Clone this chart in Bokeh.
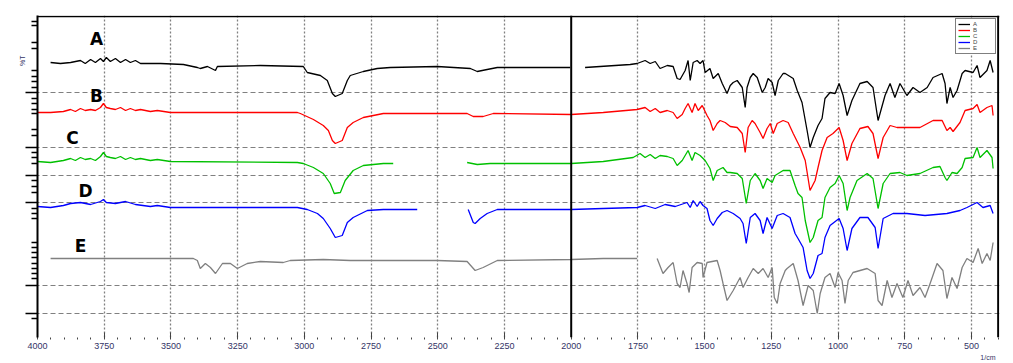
from bokeh.plotting import figure
from bokeh.models import Range1d, FixedTicker, Span, Label, Legend, LegendItem, Title
from bokeh.embed import file_html
from bokeh.resources import INLINE

nan = float("nan")

# ---- data: wavenumber (1/cm) and stacked %T (offset traces) ----
wn_A = [3951, 3914, 3876, 3839, 3821, 3801, 3783, 3764, 3753, 3742, 3727, 3708, 3689, 3670, 3652, 3633, 3614, 3577, 3539,
        3453, 3401, 3390, 3363, 3333, 3326, 3165, 3004, 2989, 2940, 2914, 2895, 2884, 2858, 2839, 2828, 2779, 2727, 2678,
        2502, 2378, 2352, 2315, 2277, 2004, nan,
        1948, 1779, 1753, 1723, 1704, 1685, 1667, 1640, 1618, 1603, 1592, 1573, 1562, 1554, 1543, 1528, 1517, 1506, 1498,
        1480, 1468, 1449, 1434, 1416, 1404, 1393, 1378, 1359, 1348, 1341, 1329, 1318, 1303, 1284, 1273, 1262, 1247, 1236,
        1224, 1206, 1198, 1168, 1153, 1135, 1116, 1105, 1093, 1075, 1060, 1049, 1030, 1011, 996, 981, 966, 948, 918, 891,
        869, 850, 824, 805, 787, 768, 742, 719, 693, 666, 644, 610, 599, 592, 580, 569, 554, 535, 524, 494, 479, 468, 442,
        430, 419]
t_A = [274, 273, 274, 276, 273, 277, 274, 278, 275, 279, 275, 278, 274, 277, 274, 276, 273, 273, 273,
       272, 269, 268, 270, 266, 270, 271, 270, 264, 261, 256, 243, 240, 243, 256, 261, 265, 268, 269,
       270, 268, 265, 267, 269, 269, nan,
       269, 272, 273, 276, 273, 275, 268, 271, 270, 258, 257, 266, 276, 256, 274, 276, 273, 276, 264,
       268, 258, 263, 253, 243, 251, 254, 256, 249, 229, 249, 259, 263, 259, 244, 249, 258, 254, 241,
       256, 263, 263, 258, 246, 234, 206, 189, 199, 211, 218, 238, 244, 243, 253, 241, 221, 236, 253, 255,
       249, 216, 241, 253, 239, 253, 241, 249, 244, 249, 259, 263, 253, 233, 249, 239, 246, 263, 266, 264, 271, 259, 266,
       276, 264]

wn_B = [4000, 3951, 3903, 3876, 3858, 3839, 3821, 3801, 3783, 3764, 3753, 3742, 3727, 3708, 3689, 3670, 3652, 3633, 3614,
        3577, 3551, 3502, 3026, 3015, 2966, 2929, 2910, 2895, 2884, 2858, 2839, 2817, 2779, 2704, 2390, 2367, 2330, 2292,
        2000, 1880, 1753, 1723, 1704, 1685, 1667, 1640, 1618, 1603, 1584, 1573, 1562, 1547, 1536, 1524, 1509, 1491, 1480,
        1468, 1453, 1442, 1423, 1404, 1378, 1359, 1348, 1337, 1322, 1311, 1292, 1281, 1266, 1254, 1243, 1228, 1206, 1187,
        1168, 1142, 1123, 1105, 1086, 1075, 1060, 1041, 1019, 996, 981, 966, 948, 918, 888, 869, 850, 831, 805, 779, 742,
        693, 644, 610, 592, 580, 569, 543, 524, 494, 479, 468, 442, 423, 419]
t_B = [224, 224, 225, 227, 225, 228, 226, 227, 226, 229, 233, 229, 228, 227, 229, 226, 228, 226, 227,
       225, 226, 224, 224, 223, 217, 211, 206, 196, 193, 196, 209, 214, 219, 223, 223, 220, 220, 223,
       222, 224, 227, 229, 225, 228, 224, 226, 224, 218, 222, 228, 233, 224, 233, 226, 231, 221, 216,
       206, 213, 216, 214, 210, 209, 203, 184, 209, 216, 213, 204, 198, 208, 213, 203, 213, 216, 214,
       203, 189, 176, 146, 156, 169, 186, 199, 203, 209, 196, 176, 193, 208, 210, 203, 178, 199, 211, 209, 209,
       209, 216, 216, 206, 209, 205, 214, 226, 228, 232, 224, 229, 231, 221]

wn_C = [4000, 3951, 3903, 3876, 3858, 3839, 3821, 3801, 3783, 3764, 3753, 3742, 3727, 3708, 3689, 3670, 3652, 3633, 3614,
        3577, 3551, 3502, 3026, 3004, 2966, 2929, 2903, 2888, 2865, 2847, 2817, 2779, 2704, 2667, nan,
        2390, 2352, 2304, 2000, 1880, 1768, 1742, 1723, 1704, 1685, 1667, 1640, 1618, 1603, 1584, 1573, 1562, 1547, 1536,
        1517, 1498, 1480, 1468, 1453, 1431, 1416, 1404, 1378, 1359, 1344, 1329, 1311, 1292, 1281, 1266, 1247, 1236, 1206,
        1180, 1161, 1150, 1135, 1123, 1105, 1093, 1075, 1060, 1049, 1030, 1011, 996, 981, 966, 955, 929, 891, 869, 850,
        831, 805, 768, 742, 693, 644, 618, 599, 592, 573, 554, 535, 524, 494, 479, 468, 442, 423, 419]
t_C = [175, 174, 176, 178, 176, 179, 177, 178, 176, 180, 184, 180, 179, 178, 180, 177, 179, 177, 178,
       176, 177, 175, 174, 173, 169, 163, 153, 143, 144, 156, 166, 171, 173, 173, nan,
       174, 172, 173, 173, 175, 179, 183, 179, 182, 178, 181, 180, 178, 171, 176, 181, 186, 176, 184,
       181, 176, 168, 156, 166, 169, 164, 164, 163, 158, 133, 156, 163, 156, 148, 158, 154, 161, 166,
       166, 151, 143, 139, 116, 94, 99, 116, 119, 139, 149, 153, 161, 153, 126, 139, 156, 163, 158, 128,
       153, 163, 164, 161, 163, 169, 170, 159, 156, 164, 163, 169, 178, 179, 189, 179, 186, 179, 168]

wn_D = [4000, 3951, 3903, 3876, 3839, 3801, 3764, 3753, 3742, 3708, 3670, 3633, 3577, 3551, 3502, 3026, 2989, 2951, 2929,
        2903, 2884, 2858, 2839, 2817, 2764, 2704, 2577, nan,
        2386, 2367, 2360, 2341, 2315, 2277, 2000, 1880, 1753, 1723, 1685, 1648, 1610, 1566, 1554, 1543, 1528, 1517, 1506,
        1491, 1480, 1468, 1453, 1434, 1416, 1393, 1367, 1356, 1344, 1329, 1311, 1292, 1281, 1266, 1247, 1228, 1206, 1180,
        1161, 1150, 1131, 1116, 1105, 1093, 1075, 1060, 1049, 1030, 996, 981, 966, 948, 918, 888, 861, 850, 831, 794, 742,
        674, 592, 543, 517, 479, 457, 430, 419]
t_D = [130, 129, 131, 133, 134, 132, 135, 137, 134, 133, 135, 132, 130, 131, 129, 129, 127, 123, 118,
       108, 99, 101, 114, 119, 126, 127, 127, nan,
       127, 114, 113, 118, 123, 127, 127, 128, 129, 131, 128, 132, 130, 134, 129, 136, 130, 135, 131,
       128, 116, 111, 118, 124, 126, 123, 118, 113, 93, 119, 123, 116, 103, 119, 108, 121, 123, 119,
       103, 98, 89, 66, 58, 63, 81, 83, 99, 111, 118, 108, 86, 108, 119, 119, 109, 88, 118, 123, 123,
       121, 123, 126, 129, 134, 129, 131, 123]

wn_E = [3951, 3416, 3401, 3390, 3371, 3352, 3333, 3307, 3277, 3251, 3214, 3165, 3079, 3053, 2929, 2828, 2502, 2390, 2360,
        2330, 2277, 2000, 1880, 1753, nan,
        1678, 1656, 1637, 1618, 1603, 1592, 1581, 1566, 1558, 1547, 1528, 1509, 1506, 1491, 1453, 1442, 1431, 1416, 1393,
        1367, 1356, 1337, 1318, 1299, 1281, 1262, 1247, 1239, 1228, 1217, 1198, 1191, 1168, 1150, 1131, 1112, 1093, 1078,
        1067, 1049, 1030, 1011, 1000, 985, 974, 962, 944, 891, 861, 850, 835, 816, 798, 779, 757, 738, 719, 693, 674, 655,
        629, 607, 592, 573, 554, 535, 517, 494, 475, 460, 442, 430, 419]
t_E = [78, 78, 76, 68, 73, 69, 63, 73, 73, 68, 73, 75, 74, 76, 77, 76, 76, 75, 66,
       69, 76, 77, 78, 78, nan,
       78, 63, 69, 74, 53, 49, 66, 53, 44, 69, 74, 73, 59, 74, 76, 66, 53, 36, 46,
       59, 49, 59, 68, 63, 68, 59, 69, 39, 33, 53, 66, 68, 73, 56, 31, 51, 46, 23,
       43, 59, 63, 49, 64, 56, 33, 56, 64, 68, 63, 36, 31, 56, 39, 53, 39, 56, 41, 49, 39, 53,
       73, 66, 38, 59, 48, 69, 78, 74, 88, 73, 83, 76, 94]

series_names = ["A", "B", "C", "D", "E"]
series_colors = ["#000000", "#ff0000", "#00c000", "#0000ff", "#808080"]

x_ticks = list(range(4000, 499, -250))
x_minor = list(range(4000, 399, -50))
y_major = [244, 189, 161, 134, 51, 23]
y_minor = [315, 311, 294, 288, 266, 260, 255, 249, 238, 233, 227, 223, 207, 201, 184, 179, 173, 156, 150, 144,
           128, 123, 118, 94, 89, 84, 79, 73, 68, 63, 58, 18]

p = figure(width=1013, height=363, x_range=Range1d(4000, 395), y_range=Range1d(-1, 321),
           output_backend="svg", toolbar_location=None,
           min_border_left=37, min_border_right=14, min_border_top=15, min_border_bottom=26)
p.outline_line_color = None
p.background_fill_color = "white"

# axes
p.xaxis.ticker = FixedTicker(ticks=x_ticks, minor_ticks=x_minor)
p.xaxis.axis_line_color = None
p.xaxis.major_tick_in = 5
p.xaxis.major_tick_out = 1
p.xaxis.minor_tick_in = 0
p.xaxis.minor_tick_out = 2
p.xaxis.major_tick_line_color = "#444444"
p.xaxis.minor_tick_line_color = "#444444"
p.xaxis.major_label_text_font_size = "9px"
p.xaxis.major_label_text_font = "Liberation Sans"
p.xaxis.major_label_text_color = "#333366"
p.xaxis.major_label_standoff = 3

p.yaxis.ticker = FixedTicker(ticks=y_major, minor_ticks=y_minor)
p.yaxis.major_label_overrides = {v: "" for v in y_major}
p.yaxis.axis_line_width = 2
p.yaxis.axis_line_color = "black"
p.yaxis.major_tick_out = 12
p.yaxis.major_tick_in = 0
p.yaxis.minor_tick_out = 6
p.yaxis.minor_tick_in = 0
p.yaxis.major_tick_line_width = 1.5
p.yaxis.minor_tick_line_width = 1.5
p.yaxis.major_tick_line_color = "black"
p.yaxis.minor_tick_line_color = "black"

# grids
p.xgrid.ticker = FixedTicker(ticks=[t for t in x_ticks if t not in (4000, 2000)])
p.xgrid.grid_line_color = "#808080"
p.xgrid.grid_line_dash = "2 2"
p.xgrid.grid_line_width = 1.3
p.ygrid.ticker = FixedTicker(ticks=y_major)
p.ygrid.grid_line_color = "#808080"
p.ygrid.grid_line_dash = "5 3"
p.ygrid.grid_line_width = 1

p.add_layout(Span(location=2000, dimension="height", line_color="black", line_width=2))
p.add_layout(Span(location=400, dimension="height", line_color="black", line_width=2))
p.add_layout(Span(location=320, dimension="width", line_color="black", line_width=1.5))

# spectra
renderers = []
for wn, t, c in zip([wn_A, wn_B, wn_C, wn_D, wn_E], [t_A, t_B, t_C, t_D, t_E], series_colors):
    renderers.append(p.line(wn, t, line_color=c, line_width=1.3))

# trace letters
for name, (lx, ly) in zip(series_names, [(3779, 298), (3779, 241), (3869, 199), (3820, 146), (3839, 91)]):
    p.add_layout(Label(x=lx, y=ly, text=name, text_font="DejaVu Sans", text_font_style="bold",
                       text_font_size="17px", text_align="center", text_baseline="middle", text_color="black"))

# axis captions
p.add_layout(Title(text="%T", align="right", text_font="Liberation Sans", text_font_size="7px",
                   text_font_style="normal", text_color="#333366", standoff=0, offset=40), "left")
p.add_layout(Title(text="1/cm", align="right", text_font="Liberation Sans", text_font_size="7px",
                   text_font_style="normal", text_color="#333366", standoff=0, offset=4), "below")

legend = Legend(items=[LegendItem(label=n, renderers=[r]) for n, r in zip(series_names, renderers)],
                location="top_right", label_text_font_size="6px", label_height=4, glyph_height=4,
                glyph_width=12, spacing=0, padding=2, margin=3, label_standoff=3,
                border_line_color="black", border_line_width=1, background_fill_alpha=1)
p.add_layout(legend)

open("out.html", "w").write(file_html(p, INLINE))
